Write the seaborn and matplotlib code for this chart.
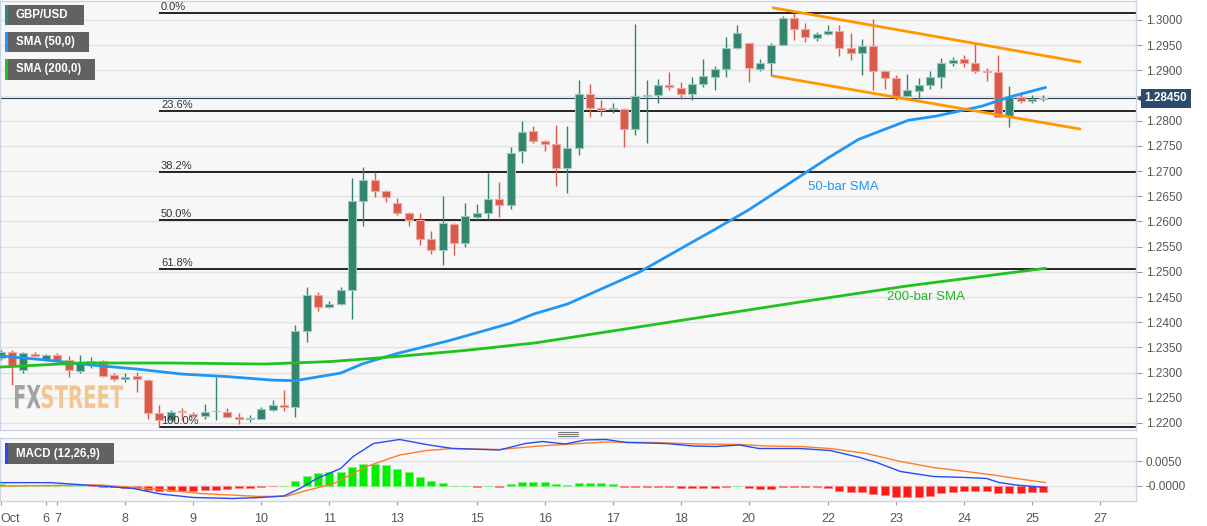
import matplotlib
matplotlib.use("Agg")
import numpy as np
import matplotlib.pyplot as plt
import seaborn as sns
from matplotlib.lines import Line2D
from matplotlib.patches import Rectangle, PathPatch
from matplotlib.textpath import TextPath
from matplotlib.font_manager import FontProperties
from matplotlib.transforms import Affine2D, blended_transform_factory

# GBP/USD 4H candles, Oct 2019
opens = [1.2329, 1.2341, 1.2306, 1.2337, 1.2324, 1.2335, 1.2324, 1.2304, 1.2320, 1.2322,
         1.2295, 1.2287, 1.2293, 1.2285, 1.2219, 1.2206, 1.2223, 1.2218, 1.2214, 1.2223,
         1.2222, 1.2212, 1.2208, 1.2208, 1.2226, 1.2236, 1.2231, 1.2383, 1.2455, 1.2430,
         1.2436, 1.2463, 1.2641, 1.2683, 1.2661, 1.2636, 1.2617, 1.2603, 1.2565, 1.2543,
         1.2595, 1.2558, 1.2609, 1.2617, 1.2644, 1.2633, 1.2740, 1.2780, 1.2760, 1.2754,
         1.2706, 1.2745, 1.2854, 1.2825, 1.2824, 1.2823, 1.2783, 1.2850, 1.2851, 1.2870,
         1.2865, 1.2853, 1.2872, 1.2887, 1.2903, 1.2944, 1.2954, 1.2902, 1.2914, 1.2950,
         1.3003, 1.2982, 1.2964, 1.2973, 1.2978, 1.2944, 1.2934, 1.2948, 1.2899, 1.2884,
         1.2849, 1.2860, 1.2870, 1.2886, 1.2915, 1.2922, 1.2915, 1.2898, 1.2897, 1.2809,
         1.2847, 1.2840, 1.2843]
highs = [1.2345, 1.2345, 1.2341, 1.2340, 1.2337, 1.2338, 1.2332, 1.2335, 1.2330, 1.2324,
         1.2299, 1.2300, 1.2302, 1.2287, 1.2236, 1.2226, 1.2229, 1.2221, 1.2238, 1.2291,
         1.2229, 1.2219, 1.2216, 1.2232, 1.2246, 1.2265, 1.2395, 1.2469, 1.2459, 1.2443,
         1.2470, 1.2686, 1.2708, 1.2698, 1.2663, 1.2646, 1.2618, 1.2616, 1.2582, 1.2651,
         1.2596, 1.2637, 1.2635, 1.2697, 1.2679, 1.2748, 1.2800, 1.2790, 1.2761, 1.2792,
         1.2790, 1.2881, 1.2873, 1.2841, 1.2836, 1.2825, 1.2992, 1.2881, 1.2882, 1.2897,
         1.2876, 1.2886, 1.2922, 1.2909, 1.2966, 1.2990, 1.2954, 1.2922, 1.2954, 1.3008,
         1.3013, 1.2995, 1.2977, 1.2990, 1.2990, 1.2974, 1.2962, 1.3001, 1.2899, 1.2891,
         1.2893, 1.2884, 1.2899, 1.2924, 1.2926, 1.2931, 1.2952, 1.2904, 1.2931, 1.2868,
         1.2858, 1.2851, 1.2851]
lows = [1.2325, 1.2275, 1.2299, 1.2330, 1.2322, 1.2321, 1.2291, 1.2300, 1.2310, 1.2292,
        1.2284, 1.2282, 1.2262, 1.2207, 1.2191, 1.2203, 1.2205, 1.2211, 1.2207, 1.2205,
        1.2211, 1.2198, 1.2201, 1.2207, 1.2224, 1.2224, 1.2212, 1.2361, 1.2423, 1.2428,
        1.2435, 1.2406, 1.2591, 1.2648, 1.2639, 1.2613, 1.2591, 1.2553, 1.2535, 1.2514,
        1.2533, 1.2549, 1.2603, 1.2604, 1.2608, 1.2625, 1.2716, 1.2756, 1.2739, 1.2671,
        1.2656, 1.2731, 1.2807, 1.2810, 1.2815, 1.2748, 1.2772, 1.2756, 1.2836, 1.2861,
        1.2843, 1.2841, 1.2866, 1.2861, 1.2886, 1.2942, 1.2876, 1.2899, 1.2889, 1.2950,
        1.2960, 1.2957, 1.2958, 1.2970, 1.2929, 1.2921, 1.2891, 1.2861, 1.2862, 1.2841,
        1.2847, 1.2844, 1.2862, 1.2864, 1.2909, 1.2906, 1.2895, 1.2878, 1.2807, 1.2787,
        1.2836, 1.2835, 1.2839]
closes = [1.2341, 1.2314, 1.2338, 1.2333, 1.2335, 1.2325, 1.2305, 1.2320, 1.2322, 1.2294,
          1.2287, 1.2292, 1.2287, 1.2219, 1.2205, 1.2222, 1.2221, 1.2214, 1.2222, 1.2224,
          1.2212, 1.2208, 1.2209, 1.2227, 1.2236, 1.2231, 1.2383, 1.2455, 1.2430, 1.2436,
          1.2463, 1.2641, 1.2683, 1.2661, 1.2648, 1.2616, 1.2603, 1.2565, 1.2543, 1.2596,
          1.2558, 1.2611, 1.2616, 1.2644, 1.2633, 1.2735, 1.2778, 1.2760, 1.2754, 1.2706,
          1.2745, 1.2854, 1.2825, 1.2821, 1.2826, 1.2783, 1.2849, 1.2851, 1.2871, 1.2866,
          1.2854, 1.2872, 1.2889, 1.2903, 1.2944, 1.2975, 1.2904, 1.2914, 1.2950, 1.3004,
          1.2983, 1.2966, 1.2972, 1.2978, 1.2944, 1.2934, 1.2948, 1.2899, 1.2884, 1.2847,
          1.2861, 1.2870, 1.2886, 1.2914, 1.2921, 1.2915, 1.2898, 1.2896, 1.2808, 1.2847,
          1.2840, 1.2843, 1.2845]

# moving averages (bar index, price)
sma50_x = [0, 4, 8, 12, 16, 20, 24, 26, 30, 32, 35, 39.5, 45, 47, 50, 56.4, 60, 63, 66,
           70.5, 73, 75.7, 80.1, 82.5, 86.6, 89, 92.2]
sma50_y = [1.2333, 1.2325, 1.2315, 1.2307, 1.2297, 1.2292, 1.2285, 1.2284, 1.2299, 1.2318,
           1.2338, 1.2363, 1.2398, 1.2416, 1.2436, 1.2500, 1.2546, 1.2584, 1.2623, 1.2689,
           1.2726, 1.2763, 1.2801, 1.2809, 1.2829, 1.2847, 1.2866]
sma200_x = [0, 7, 15, 23.3, 29.2, 35, 41, 47.2, 56.4, 70.5, 80, 92.2]
sma200_y = [1.2311, 1.2319, 1.2319, 1.2317, 1.2322, 1.2332, 1.2344, 1.2359, 1.2391, 1.2440,
            1.2472, 1.2507]

# falling channel
chan_x = [68.15, 95.24]
chan_upper = [1.30242, 1.29166]
chan_lower = [1.28888, 1.27836]

# fibonacci retracement
fib_low, fib_high = 1.2191, 1.3013
fib_ratios = [0.0, 0.236, 0.382, 0.5, 0.618, 1.0]
fib_names = ["0.0%", "23.6%", "38.2%", "50.0%", "61.8%", "100.0%"]
last_price = 1.2845

# MACD (12,26,9)
macd_hist = [0.0004, 0.0003, 0.0002, 0.0001, 0.0001, 0.0001, 0.00005, 0.00003, -0.00005, -0.0001,
             -0.0002, -0.0003, -0.0003, -0.0008, -0.0010, -0.0010, -0.0010, -0.0009, -0.0008, -0.0007,
             -0.0005, -0.0004, -0.0003, -0.0001, -0.00005, 0.0001, 0.0011, 0.0021, 0.0026, 0.0028,
             0.0028, 0.0038, 0.0045, 0.0045, 0.0042, 0.0035, 0.0028, 0.0019, 0.0011, 0.0007,
             0.0001, 0.0001, -0.0001, 0.00005, -0.0001, 0.0005, 0.0009, 0.0009, 0.0009, 0.0004,
             0.0002, 0.0007, 0.0007, 0.0006, 0.0005, -0.0001, -0.0001, -0.0001, -0.0001, -0.0002,
             -0.0004, -0.0004, -0.0004, -0.0004, -0.0002, 0.0001, -0.0003, -0.0005, -0.0005, -0.0002,
             -0.0002, -0.0002, -0.0002, -0.0004, -0.0009, -0.0011, -0.0011, -0.0015, -0.0018, -0.0021,
             -0.0021, -0.0021, -0.0019, -0.0014, -0.0012, -0.0009, -0.0009, -0.0009, -0.0013, -0.0013,
             -0.0013, -0.0011, -0.0011]
macd_x = [0, 4.4, 8.8, 11.7, 14.1, 17, 20.5, 22.9, 25, 26.4, 27.9, 30, 31.1, 32.9, 35.2, 37.8,
          39.9, 44, 46.3, 47.8, 49.8, 51.6, 53.4, 55.2, 58.7, 61.1, 63.1, 65.2, 66.9, 70.5, 73.2,
          75.8, 77.3, 79.4, 82.3, 85.2, 87, 88.1, 89.6, 92.2]
macd_y = [0.00067, 0.00067, 0.0, -0.0005, -0.0016, -0.0023, -0.0025, -0.0023, -0.0020, -0.0005,
          0.0015, 0.0035, 0.0059, 0.0085, 0.0093, 0.0082, 0.0075, 0.0072, 0.0085, 0.0089, 0.0084,
          0.0092, 0.0093, 0.0087, 0.0085, 0.0080, 0.0079, 0.0082, 0.0075, 0.0075, 0.0071, 0.0057,
          0.0047, 0.0029, 0.0019, 0.0017, 0.0015, 0.0007, 0.0002, -0.0003]
signal_x = [0, 8.8, 14.7, 17.6, 22.9, 25.3, 27, 29.4, 32.3, 35.2, 37.6, 39.9, 44, 47.5, 50.4,
            53.4, 57.5, 61.6, 65.2, 67.5, 70.5, 73.2, 76.4, 79.4, 82.3, 85.2, 87.6, 89.6, 92.2]
signal_y = [0.0, 0.0002, -0.0008, -0.0015, -0.0021, -0.0020, -0.0009, 0.0005, 0.0039, 0.0062,
            0.0071, 0.0075, 0.0073, 0.0080, 0.0084, 0.0088, 0.0087, 0.0084, 0.0083, 0.0080, 0.0079,
            0.0075, 0.0065, 0.0049, 0.0037, 0.0029, 0.0022, 0.0015, 0.0007]

# day labels on the bar index axis
day_pos = [0, 4, 5, 11, 17, 23, 29, 35, 42, 48, 54, 60, 66, 73, 79, 85, 91, 97]
day_labels = ["Oct", "6", "7", "8", "9", "10", "11", "13", "15", "16", "17", "18", "20", "22",
              "23", "24", "25", "27"]

sns.set_style("white")
plt.rcParams['font.family'] = ['Liberation Sans', 'DejaVu Sans']

W, H = 1207, 526
fig = plt.figure(figsize=(W / 100, H / 100), dpi=100)
ax = fig.add_axes([0, 1 - 430 / H, 1136 / W, 429 / H])
axm = fig.add_axes([0, 1 - 500.7 / H, 1136 / W, 62.4 / H])

xlim = (-0.06, 100.18)
panel_bg = '#f7f7f7'
border = '#cdd4e6'
for a in (ax, axm):
    a.set_facecolor(panel_bg)
    for s in a.spines.values():
        s.set_color(border)
        s.set_linewidth(1)
    a.set_xlim(*xlim)
    a.yaxis.tick_right()
    a.grid(axis='y', color='#e2e2e2', lw=1)
    a.grid(axis='x', visible=False)
    a.set_axisbelow(True)
    a.tick_params(axis='y', length=4, color='#999999', labelcolor='#555555',
                  labelsize=8.5, pad=3, right=True, left=False)

# --- price panel ---
ax.set_ylim(1.2186, 1.30377)
yt = np.arange(1.22, 1.3001, 0.005)
ax.set_yticks(yt)
# the last-price box sits over the 1.2850 label
ax.set_yticklabels(["" if abs(v - 1.285) < 1e-6 else f"{v:.4f}" for v in yt])
ax.set_xticks([])

idx = np.arange(len(opens))
o = np.array(opens)
c = np.array(closes)
up = c >= o
green, red = '#32856f', '#d85a4b'
cols = np.where(up, green, red)
edges = np.where(up, '#9cc8bc', '#f0a79e')
ax.vlines(idx, lows, highs, colors=cols, lw=1.0, zorder=3)
body = np.maximum(np.abs(c - o), 0.00012)
ax.bar(idx, body, bottom=np.minimum(o, c), width=0.72, color=cols,
       edgecolor=edges, linewidth=0.8, zorder=4)

sns.lineplot(x=sma50_x, y=sma50_y, ax=ax, color='#2196f3', lw=2, estimator=None, zorder=5)
sns.lineplot(x=sma200_x, y=sma200_y, ax=ax, color='#1fc21f', lw=2, estimator=None, zorder=5)
sns.lineplot(x=chan_x, y=chan_upper, ax=ax, color='#ff9800', lw=2, estimator=None, zorder=5)
sns.lineplot(x=chan_x, y=chan_lower, ax=ax, color='#ff9800', lw=2, estimator=None, zorder=5)

for r, name in zip(fib_ratios, fib_names):
    lvl = fib_high - r * (fib_high - fib_low)
    ax.hlines(lvl, 14.0, xlim[1], color='black', lw=1.2, zorder=2)
    ax.text(14.15, lvl + 0.0002, name, fontsize=8, color='#333333', va='bottom', ha='left', zorder=6)

ax.axhline(last_price, color='#2b3f5c', lw=0.8, zorder=2)
bt = blended_transform_factory(ax.transAxes, ax.transData)
ax.text(1.0075, last_price, f"{last_price:.5f}", transform=bt, ha='left', va='center',
        fontsize=8.5, fontweight='bold', color='white', clip_on=False,
        bbox=dict(boxstyle='square,pad=0.3', fc='#2c4a6b', ec='none'))
ax.plot([1.0035], [last_price], marker='<', ms=5, color='#2c4a6b', transform=bt, clip_on=False)

ax.text(71.2, 1.26685, "50-bar SMA", color='#2196f3', fontsize=9.5, va='center', ha='left')
ax.text(78.2, 1.2450, "200-bar SMA", color='#22b822', fontsize=9.5, va='center', ha='left')

# --- MACD panel ---
axm.set_ylim(-0.00294, 0.00954)
axm.set_yticks([0.005, 0.0])
axm.set_yticklabels(["0.0050", "-0.0000"])
hist = np.array(macd_hist)
hcols = np.where(hist >= 0, '#00ee00', '#ff1a1a')
hedge = np.where(hist >= 0, '#7df57d', '#ff8080')
axm.bar(idx, hist, width=0.72, color=hcols, edgecolor=hedge, linewidth=0.6, zorder=3)
sns.lineplot(x=signal_x, y=signal_y, ax=axm, color='#ff7f27', lw=1.0, estimator=None, zorder=4)
sns.lineplot(x=macd_x, y=macd_y, ax=axm, color='#2a4bf0', lw=1.0, estimator=None, zorder=5)
axm.set_xticks(day_pos)
axm.set_xticklabels(day_labels)
axm.tick_params(axis='x', length=3, color='#999999', labelcolor='#555555', labelsize=9, pad=6,
                bottom=True)
axm.get_xticklabels()[0].set_horizontalalignment('left')
axm.set_xlabel("")
axm.set_ylabel("")
ax.set_xlabel("")
ax.set_ylabel("")


# --- overlays in pixel positions ---
def fig_box(x0, y0, x1, y1, stripe, label):
    fig.add_artist(Rectangle((x0 / W, 1 - y1 / H), (x1 - x0) / W, (y1 - y0) / H,
                             transform=fig.transFigure, fc='#5a5a5a', ec='none', alpha=0.95, zorder=10))
    fig.add_artist(Rectangle((x0 / W, 1 - y1 / H), 2.5 / W, (y1 - y0) / H,
                             transform=fig.transFigure, fc=stripe, ec='none', zorder=11))
    fig.text((x0 + 11) / W, 1 - (y0 + y1) / 2 / H, label, color='white', fontsize=8.3,
             fontweight='bold', va='center', ha='left', zorder=12)


fig_box(5, 5, 83.5, 25.5, '#2e8b70', "GBP/USD")
fig_box(5, 32, 89, 52.3, '#2196f3', "SMA (50,0)")
fig_box(5, 59, 95, 79.7, '#1fc21f', "SMA (200,0)")
fig_box(5, 443.3, 114, 463.7, '#2a4bf0', "MACD (12,26,9)")


def stretched_text(txt, x0, x1, ytop, ybot, color):
    tp = TextPath((0, 0), txt, size=1, prop=FontProperties(family='DejaVu Sans', weight='bold'))
    bb = tp.get_extents()
    sx = (x1 - x0) / bb.width / W
    sy = (ybot - ytop) / bb.height / H
    tr = Affine2D().translate(-bb.x0, -bb.y0).scale(sx, sy).translate(x0 / W, 1 - ybot / H) + fig.transFigure
    fig.add_artist(PathPatch(tp, transform=tr, fc=color, ec='none', zorder=1))


stretched_text("FX", 15, 40.7, 385, 408.3, '#a3a3a7')
stretched_text("STREET", 41.7, 123.3, 385, 408.3, '#f3c590')

for yy in (432, 434, 436):
    fig.add_artist(Line2D([558 / W, 578 / W], [1 - yy / H, 1 - yy / H], transform=fig.transFigure,
                          color='#777777', lw=0.8))

fig.savefig("out.png", dpi=100)
